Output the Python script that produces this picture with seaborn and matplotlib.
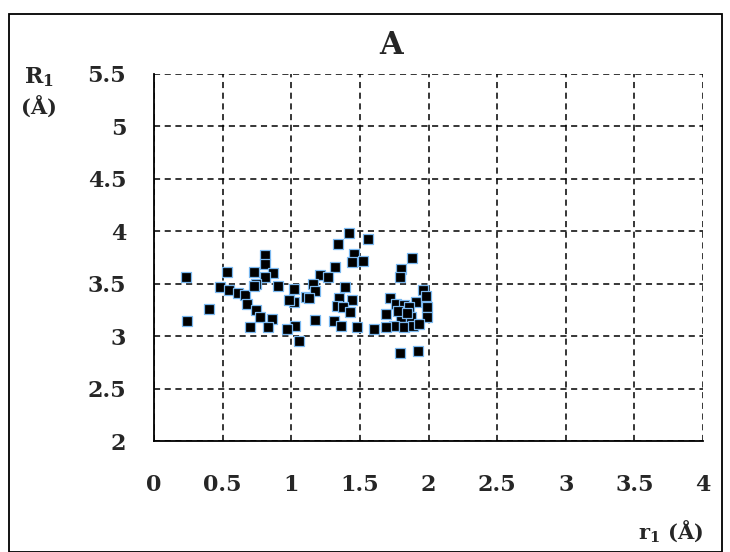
import matplotlib
matplotlib.use("Agg")
import matplotlib.pyplot as plt
import seaborn as sns
import pandas as pd
from matplotlib.patches import Rectangle

# data
r1 = [0.23, 0.24, 0.40, 0.53, 0.48, 0.55, 0.61, 0.66, 0.68, 0.73,
      0.81, 0.81, 0.87, 0.81, 0.74, 0.73, 0.90, 0.74, 0.77, 0.86,
      0.70, 0.83, 1.02, 1.02, 0.98, 1.11, 1.03, 0.97, 1.06,
      1.42, 1.56, 1.34, 1.46, 1.52, 1.44, 1.32, 1.21, 1.27, 1.16,
      1.17, 1.13, 1.39, 1.35, 1.44, 1.33, 1.38, 1.43, 1.17, 1.31,
      1.36, 1.48, 1.60,
      1.88, 1.80, 1.79, 1.96, 1.72, 1.91, 1.76, 1.82, 1.86, 1.99,
      1.69, 1.80, 1.99, 1.87, 1.75, 1.82, 1.89, 1.69, 1.79, 1.92,
      1.78, 1.84, 1.93, 1.98]
R1 = [3.56, 3.14, 3.26, 3.61, 3.47, 3.44, 3.41, 3.39, 3.31, 3.61,
      3.77, 3.69, 3.60, 3.56, 3.50, 3.48, 3.48, 3.25, 3.18, 3.16,
      3.09, 3.09, 3.45, 3.33, 3.34, 3.37, 3.10, 3.07, 2.95,
      3.98, 3.93, 3.88, 3.78, 3.72, 3.71, 3.66, 3.58, 3.56, 3.50,
      3.43, 3.36, 3.47, 3.36, 3.34, 3.29, 3.28, 3.23, 3.15, 3.14,
      3.10, 3.09, 3.07,
      3.75, 3.64, 3.56, 3.44, 3.36, 3.33, 3.31, 3.30, 3.28, 3.28,
      3.21, 3.18, 3.18, 3.18, 3.10, 3.09, 3.10, 3.09, 2.84, 2.86,
      3.24, 3.22, 3.12, 3.38]

x_ticks = [0, 0.5, 1, 1.5, 2, 2.5, 3, 3.5, 4]
x_tick_labels = ["0", "0.5", "1", "1.5", "2", "2.5", "3", "3.5", "4"]
y_ticks = [2, 2.5, 3, 3.5, 4, 4.5, 5, 5.5]
y_tick_labels = ["2", "2.5", "3", "3.5", "4", "4.5", "5", "5.5"]

df = pd.DataFrame({"r1": r1, "R1": R1})

sns.set_style("white")
serif = ["DejaVu Serif"]
plt.rcParams["font.family"] = serif
plt.rcParams["mathtext.fontset"] = "dejavuserif"

fig = plt.figure(figsize=(7.30, 5.52), dpi=100)
ax = fig.add_axes([154/730, 1-441/552, (703-154)/730, (441-74)/552])

sns.scatterplot(data=df, x="r1", y="R1", ax=ax, marker="s", s=55,
                color="black", edgecolor="#7ab8f0", linewidth=0.9, zorder=3)

ax.set_xlim(0, 4)
ax.set_ylim(2, 5.5)
ax.set_xticks(x_ticks)
ax.set_xticklabels(x_tick_labels)
ax.set_yticks(y_ticks)
ax.set_yticklabels(y_tick_labels)
ax.grid(True, color="black", linestyle=(0, (4, 3)), linewidth=1.1)
for s in ["top", "right"]:
    ax.spines[s].set_visible(False)
for s in ["left", "bottom"]:
    ax.spines[s].set_color("black")
    ax.spines[s].set_linewidth(1.3)
ax.tick_params(axis="both", direction="out", length=7, width=1.1,
               color="black", labelsize=16)
ax.tick_params(axis="x", pad=17)
ax.tick_params(axis="y", pad=13)
for lab in ax.get_xticklabels() + ax.get_yticklabels():
    lab.set_fontweight("bold")
ax.set_xlabel("")
ax.set_ylabel("")

fig.text(391/730, 1-46/552, "A", ha="center", va="center",
         fontsize=22, fontweight="bold", family=serif)
fig.text(39/730, 1-77/552, r"R$_\mathbf{1}$", ha="center", va="center",
         fontsize=16, fontweight="bold", family=serif)
fig.text(39/730, 1-108/552, "(Å)", ha="center", va="center",
         fontsize=15, fontweight="bold", family=serif)
fig.text(670/730, 1-531/552, r"r$_\mathbf{1}$ (Å)", ha="center", va="center",
         fontsize=15, fontweight="bold", family=serif)

fig.patches.append(Rectangle((9/730, 0.0), (722-9)/730, 1-14/552,
                             transform=fig.transFigure, fill=False,
                             edgecolor="black", linewidth=1.3))

fig.savefig("out.png", dpi=100)
